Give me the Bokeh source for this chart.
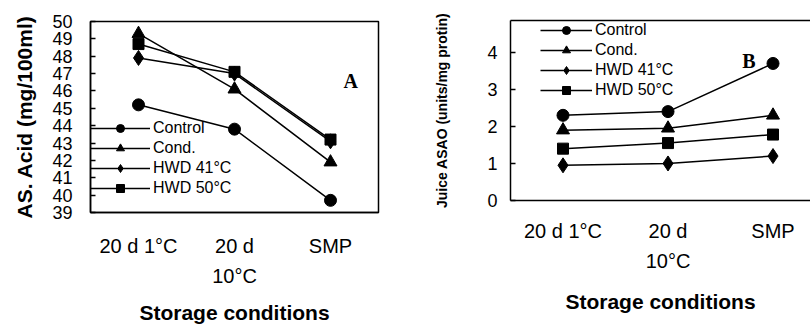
from bokeh.plotting import figure
from bokeh.layouts import row, column
from bokeh.models import LinearAxis, FixedTicker, Range1d, Label
from bokeh.embed import file_html
from bokeh.resources import INLINE

# ---- data ----
tick_line1 = ["20 d 1°C", "20 d", "SMP"]
tick_line2 = ["", "10°C", ""]
series_names = ["Control", "Cond.", "HWD 41°C", "HWD 50°C"]
series_markers = ["circle", "triangle", "diamond", "square"]

as_acid_control = [45.2, 43.8, 39.7]
as_acid_cond = [49.3, 46.1, 41.9]
as_acid_hwd41 = [47.9, 47.0, 43.1]
as_acid_hwd50 = [48.7, 47.1, 43.2]

asao_control = [2.3, 2.4, 3.7]
asao_cond = [1.9, 1.95, 2.3]
asao_hwd41 = [0.95, 1.0, 1.2]
asao_hwd50 = [1.4, 1.55, 1.78]

left_yticks = list(range(39, 51))
right_yticks = [0, 1, 2, 3, 4]

xs = list(range(1, len(tick_line1) + 1))

SANS = "Liberation Sans"
SERIF = "Liberation Serif"
marker_sizes = {"circle": 12, "triangle": 13, "diamond": 15, "square": 11}


def style_common(p, ytitle, ytitle_size, ystandoff, ylab_standoff, yticks,
                 xlab_standoff, x2_standoff, xtitle_standoff, xtitle_size):
    p.grid.visible = False
    p.background_fill_color = "white"
    p.border_fill_color = "white"
    ya = p.yaxis[0]
    ya.ticker = FixedTicker(ticks=yticks)
    ya.major_tick_in = 5
    ya.major_tick_out = 0
    ya.minor_tick_line_color = None
    ya.major_tick_line_width = 1.5
    ya.axis_line_width = 1.5
    ya.major_label_text_font = SANS
    ya.major_label_text_font_size = "18px"
    ya.major_label_text_color = "black"
    ya.major_label_standoff = ylab_standoff
    ya.axis_label = ytitle
    ya.axis_label_text_font = SANS
    ya.axis_label_text_font_style = "bold"
    ya.axis_label_text_font_size = ytitle_size
    ya.axis_label_text_color = "black"
    ya.axis_label_standoff = ystandoff

    xa = p.xaxis[0]
    xa.ticker = FixedTicker(ticks=xs)
    xa.major_label_overrides = {x: t for x, t in zip(xs, tick_line1)}
    xa.major_tick_line_color = None
    xa.minor_tick_line_color = None
    xa.major_tick_out = 0
    xa.axis_line_width = 1.5
    xa.major_label_text_font = SANS
    xa.major_label_text_font_size = "20px"
    xa.major_label_text_color = "black"
    xa.major_label_standoff = xlab_standoff

    x2 = LinearAxis(
        ticker=FixedTicker(ticks=[x for x, t in zip(xs, tick_line2) if t]),
        major_label_overrides={x: t for x, t in zip(xs, tick_line2) if t},
        axis_line_color=None,
        major_tick_line_color=None,
        minor_tick_line_color=None,
        major_tick_out=0,
        major_label_text_font=SANS,
        major_label_text_font_size="20px",
        major_label_text_color="black",
        major_label_standoff=x2_standoff,
        axis_label="Storage conditions",
        axis_label_text_font=SANS,
        axis_label_text_font_style="bold",
        axis_label_text_font_size=xtitle_size,
        axis_label_text_color="black",
        axis_label_standoff=xtitle_standoff,
    )
    p.add_layout(x2, "below")


def add_series(p, data_list, lw):
    for name, marker, ys in zip(series_names, series_markers, data_list):
        p.line(xs, ys, line_color="black", line_width=lw, legend_label=name)
        p.scatter(xs, ys, marker=marker, size=marker_sizes[marker], fill_color="black",
                  line_color="black", legend_label=name)


def style_legend(p, loc, gw):
    lg = p.legend[0]
    lg.location = loc
    lg.border_line_color = None
    lg.background_fill_alpha = 0
    lg.padding = 0
    lg.margin = 0
    lg.spacing = 0
    lg.glyph_width = gw
    lg.glyph_height = 20
    lg.label_height = 20
    lg.label_standoff = 3
    lg.label_text_font = SANS
    lg.label_text_font_size = "16px"
    lg.label_text_color = "black"


# ---- left panel ----
p1 = figure(width=400, height=328, x_range=Range1d(0.5, 3.5), y_range=Range1d(39, 50),
            output_backend="svg", toolbar_location=None,
            min_border_left=90, min_border_right=22, min_border_top=21, min_border_bottom=116)
p1.outline_line_color = "black"
p1.outline_line_width = 1.5
add_series(p1, [as_acid_control, as_acid_cond, as_acid_hwd41, as_acid_hwd50], 1.5)
style_common(p1, "AS. Acid (mg/100ml)", "21px", 13, 18, left_yticks, 22, 5, 11, "21px")
style_legend(p1, (0, 14), 60)
p1.add_layout(Label(x=3.21, y=46.6, text="A", text_font=SERIF, text_font_style="bold",
                    text_font_size="20px", text_color="black",
                    text_align="center", text_baseline="middle"))

# ---- right panel ----
p2 = figure(width=410, height=328, x_range=Range1d(0.5, 3.357), y_range=Range1d(0, 4.86),
            output_backend="svg", toolbar_location=None,
            min_border_left=110, min_border_right=0, min_border_top=20, min_border_bottom=128)
p2.outline_line_color = None
add_series(p2, [asao_control, asao_cond, asao_hwd41, asao_hwd50], 1.5)
style_common(p2, "Juice ASAO (units/mg protin)", "14px", 34, 13, right_yticks, 19, 5, 15, "21px")
top_axis = LinearAxis(ticker=FixedTicker(ticks=[]), axis_line_width=1.5,
                      major_tick_line_color=None, minor_tick_line_color=None,
                      major_label_text_font_size="0px")
p2.add_layout(top_axis, "above")
style_legend(p2, (30, 100), 52)
p2.add_layout(Label(x=2.77, y=3.78, text="B", text_font=SERIF, text_font_style="bold",
                    text_font_size="20px", text_color="black",
                    text_align="center", text_baseline="middle"))

layout = row(column(p1), column(p2))
open("out.html", "w").write(file_html(layout, INLINE))
